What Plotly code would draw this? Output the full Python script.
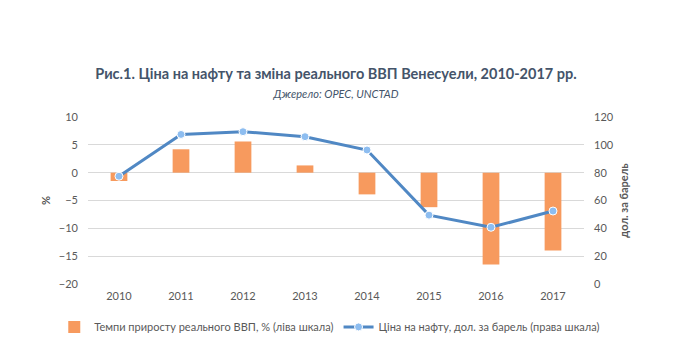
import plotly.graph_objects as go

years = ["2010", "2011", "2012", "2013", "2014", "2015", "2016", "2017"]
gdp_growth = [-1.5, 4.2, 5.6, 1.3, -3.9, -6.2, -16.5, -14.0]
oil_price = [77.45, 107.46, 109.45, 105.87, 96.29, 49.49, 40.76, 52.43]

FONT = "Lato"
TXT = "#595959"

fig = go.Figure()
fig.add_trace(go.Bar(
    x=years, y=gdp_growth, name="Темпи приросту реального ВВП, % (ліва шкала)",
    marker=dict(color="#F79A5E", line=dict(width=0)), width=0.27, yaxis="y",
))
fig.add_trace(go.Scatter(
    x=years, y=oil_price, name="Ціна на нафту, дол. за барель (права шкала)",
    mode="lines+markers", yaxis="y2",
    line=dict(color="#5088C4", width=3),
    marker=dict(size=8, color="#8DBDF0", line=dict(color="white", width=1)),
))

fig.update_layout(
    width=691, height=355,
    margin=dict(l=80, r=115, t=109, b=79, autoexpand=False),
    paper_bgcolor="white", plot_bgcolor="white",
    font=dict(family=FONT, size=11, color=TXT),
    title=dict(
        text="<b>Рис.1. Ціна на нафту та зміна реального ВВП Венесуели, 2010-2017 рр.</b>"
             "<br><span style='font-size:11px;font-weight:normal'><i>Джерело: OPEC, UNCTAD</i></span>",
        x=0.5, xref="paper", xanchor="center", y=0.80, yanchor="middle",
        font=dict(family=FONT, size=14.5, color="#44546A"),
    ),
    xaxis=dict(showgrid=False, showline=False, ticks="", tickfont=dict(size=11, color=TXT),
               ticklabelstandoff=4),
    yaxis=dict(range=[-20, 10], dtick=5, showgrid=True, gridcolor="#D9D9D9", zeroline=False,
               showline=False, tickfont=dict(size=11, color=TXT), ticklabelstandoff=9,
               title=dict(text="<b>%</b>", font=dict(size=11, color=TXT), standoff=6)),
    yaxis2=dict(range=[0, 120], dtick=20, overlaying="y", side="right", showgrid=False,
                zeroline=False, showline=False, tickfont=dict(size=11, color=TXT),
                ticklabelstandoff=9,
                title=dict(text="<b>дол. за барель</b>", font=dict(size=11, color=TXT), standoff=7)),
    legend=dict(orientation="h", x=-0.068, xanchor="left", xref="paper",
                y=-0.257, yref="paper", yanchor="middle",
                font=dict(size=11, color=TXT), traceorder="normal"),
    showlegend=True,
)

fig.write_html("out.html")
